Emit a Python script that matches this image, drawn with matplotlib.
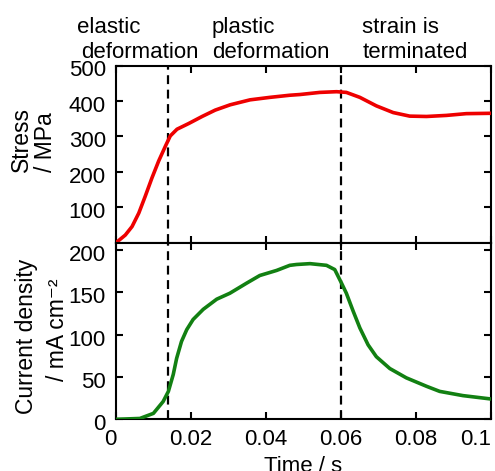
import matplotlib
matplotlib.use("Agg")
import matplotlib.pyplot as plt
from matplotlib.transforms import ScaledTranslation

plt.rcParams['font.family'] = ['Liberation Sans', 'DejaVu Sans']

# Stress (upper panel)
t_stress = [0.0, 0.0024, 0.0042, 0.0060, 0.0077, 0.0095, 0.0113, 0.0131, 0.0144, 0.0162,
            0.0193, 0.0229, 0.0264, 0.0304, 0.0357, 0.0410, 0.0463, 0.0490, 0.0543, 0.0588,
            0.0614, 0.0650, 0.0694, 0.0739, 0.0783, 0.0828, 0.0881, 0.0934, 0.1000]
stress = [0, 21, 45, 83, 130, 182, 230, 272, 301, 320,
          336, 356, 374, 389, 403, 410, 416, 418, 424, 426,
          424, 410, 386, 367, 357, 356, 359, 364, 365]

# Current density (lower panel)
t_cur = [0.0, 0.0063, 0.0099, 0.0125, 0.0139, 0.0152, 0.0161, 0.0174, 0.0188, 0.0205,
         0.0232, 0.0268, 0.0303, 0.0348, 0.0383, 0.0428, 0.0463, 0.0481, 0.0517, 0.0561,
         0.0583, 0.0601, 0.0614, 0.0632, 0.0650, 0.0672, 0.0694, 0.0730, 0.0774, 0.0828,
         0.0863, 0.0925, 0.1000]
current = [0, 1, 7, 21, 33, 53, 72, 92, 106, 118,
           130, 142, 149, 161, 170, 176, 182, 183, 184, 182,
           177, 161, 149, 128, 108, 88, 74, 60, 49, 39,
           33, 28, 24]

dividers = [0.0137, 0.06]
x_ticks = [0, 0.02, 0.04, 0.06, 0.08, 0.1]
x_ticklabels = ['0', '0.02', '0.04', '0.06', '0.08', '0.1']
stress_ticks = [100, 200, 300, 400, 500]
cur_ticks = [0, 50, 100, 150, 200]
phase_labels = [("elastic", "deformation"), ("plastic", "deformation"), ("strain is", "terminated")]

W, H = 495, 471
fig = plt.figure(figsize=(W / 100, H / 100), dpi=100)

left = 116.3 / W
right = 491 / W
top_y = 65.5
mid_y = 242.5
bot_y = 419.3
ax1 = fig.add_axes([left, 1 - mid_y / H, right - left, (mid_y - top_y) / H])
ax2 = fig.add_axes([left, 1 - bot_y / H, right - left, (bot_y - mid_y) / H])

fs = 16
for ax in (ax1, ax2):
    for sp in ax.spines.values():
        sp.set_linewidth(1.5)
    ax.tick_params(direction='in', length=5, width=1.5, top=True, right=True,
                   labelsize=fs)
    ax.tick_params(axis='y', pad=7.5)
    ax.tick_params(axis='x', pad=7)
    ax.set_xlim(0, 0.1)
    ax.set_xticks(x_ticks)
    for d in dividers:
        ax.axvline(d, color='black', lw=1.6, ls=(0, (4, 2.5)), zorder=1)

ax1.plot(t_stress, stress, color='#ee0000', lw=2.6, zorder=3,
         solid_joinstyle='round', solid_capstyle='round')
ax1.set_ylim(0, 500)
ax1.set_yticks(stress_ticks)
ax1.tick_params(labelbottom=False)

ax2.plot(t_cur, current, color='#128012', lw=2.6, zorder=3,
         solid_joinstyle='round', solid_capstyle='round')
ax2.set_ylim(0, 209)
ax2.set_yticks(cur_ticks)
ax2.set_xticklabels(x_ticklabels)
labs = ax2.get_xticklabels()
labs[0].set_ha('right')
labs[-1].set_ha('right')

# shift y tick labels slightly downward, as in the reference
shift = ScaledTranslation(0, -3 / 100, fig.dpi_scale_trans)
for ax in (ax1, ax2):
    for tk in ax.yaxis.get_major_ticks():
        tk.label1.set_transform(tk.label1.get_transform() + shift)

# Y labels
fig.text(21 / W, 1 - 140 / H, "Stress", rotation=90, ha='center', va='center', fontsize=16.5)
fig.text(46 / W, 1 - 142 / H, "/ MPa", rotation=90, ha='center', va='center', fontsize=16.5)
fig.text(27 / W, 1 - 336 / H, "Current density", rotation=90, ha='center', va='center', fontsize=16.5)
fig.text(58 / W, 1 - 330 / H, "/ mA cm\u207b\u00b2", rotation=90, ha='center', va='center', fontsize=16.5)

# X label (partially cut at the bottom edge as in reference)
fig.text(303 / W, 1 - 466 / H, "Time / s", ha='center', va='center', fontsize=16)

# Phase annotations
xs = [(77, 81.5), (211.7, 211.7), (361.7, 362.5)]
for (l1, l2), (x1, x2) in zip(phase_labels, xs):
    fig.text(x1 / W, 1 - 33 / H, l1, ha='left', va='baseline', fontsize=16)
    fig.text(x2 / W, 1 - 58.5 / H, l2, ha='left', va='baseline', fontsize=16)

fig.savefig("out.png", dpi=100)
